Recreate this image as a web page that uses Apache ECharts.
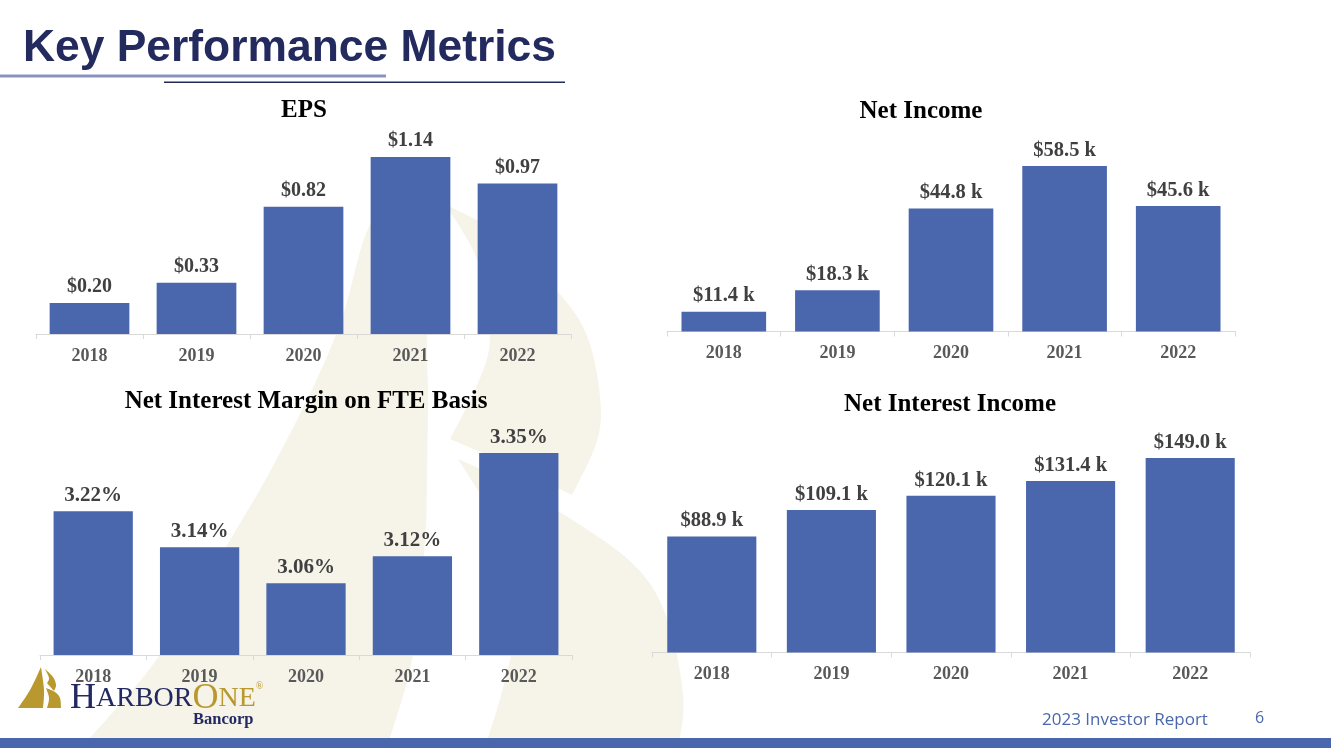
<!DOCTYPE html>
<html><head><meta charset="utf-8">
<style>html,body{margin:0;padding:0;background:#fff}#c{width:1331px;height:748px}</style>
<script src="https://cdn.jsdelivr.net/npm/echarts@6/dist/echarts.min.js"></script>
</head><body><div id="c"></div>
<script>
const years = ['2018','2019','2020','2021','2022'];
const eps = [0.20,0.33,0.82,1.14,0.97];
const netIncome = [11.4,18.3,44.8,58.5,45.6];
const margin = [3.22,3.14,3.06,3.12,3.35];
const interestIncome = [88.9,109.1,120.1,131.4,149.0];
const chartTitles = ['EPS','Net Income','Net Interest Margin on FTE Basis','Net Interest Income'];

const BLUE='#4a66ac', CREAM='#f6f3e8', GOLD='#b9992f', NAVY='#232a63';
const SERIF='"Liberation Serif", serif';

// Catmull-Rom sampling for decorative outlines
function curve(p){const o=[];for(let i=0;i<p.length-1;i++){const a=p[Math.max(i-1,0)],b=p[i],c=p[i+1],d=p[Math.min(i+2,p.length-1)];
 for(let t=0;t<1;t+=0.125){const t2=t*t,t3=t2*t;o.push([0,1].map(k=>0.5*(2*b[k]+(c[k]-a[k])*t+(2*a[k]-5*b[k]+4*c[k]-d[k])*t2+(3*b[k]-a[k]-3*c[k]+d[k])*t3)));}}
 o.push(p[p.length-1]);return o;}
const shape=(...cs)=>cs.flatMap(curve);
const poly=(points,fill,z)=>({type:'polygon',z,silent:true,shape:{points},style:{fill}});

const wmLeft=shape([[90,738],[160,655],[233,535],[273,466],[317,379],[343,315],[371,223],[410,208],[445,204]],
                   [[445,204],[432,270],[427,340],[428,397],[427,470],[425,542],[413,655],[390,738]]);
const wmUpper=shape([[445,204],[500,235],[558,292],[587,336],[600,397],[597,441],[572,495]],
                    [[572,495],[510,465],[450,439]],[[450,439],[478,383],[490,336],[478,262],[445,204]]);
const wmLower=shape([[458,459],[490,474],[558,511],[633,564],[667,618],[683,694],[680,738]],
                    [[488,738],[505,680],[520,600],[500,530],[458,459]]);
const logoL=shape([[18,708],[30,690],[41,667]],[[41,667],[44,690],[43,708]]);
const logoR1=shape([[45,669],[53,677],[56,685],[54,691]],[[54,691],[47,683]],[[47,683],[49,678],[45,669]]);
const logoR2=shape([[46,688],[55,692],[60,698],[61,708]],[[47,708],[49,698],[46,688]]);

const layouts=[
 {l:36,r:571,t:157,b:334,min:0,max:1.14,data:eps,fmt:v=>'$'+v.toFixed(2),size:20,dist:6,tx:304,ty:98},
 {l:667,r:1235,t:166,b:331.5,min:5,max:58.5,data:netIncome,fmt:v=>'$'+v.toFixed(1)+' k',size:20.5,dist:5,tx:921,ty:99},
 {l:40,r:572,t:453,b:655,min:2.9,max:3.35,data:margin,fmt:v=>v.toFixed(2)+'%',size:21,dist:5,tx:306,ty:389},
 {l:652,r:1250,t:458,b:652.5,min:0,max:149,data:interestIncome,fmt:v=>'$'+v.toFixed(1)+' k',size:20.5,dist:5,tx:950,ty:392}
];

const chart=echarts.init(document.getElementById('c'),null,{renderer:'canvas'});
chart.setOption({
 animation:false,backgroundColor:'#fff',
 title:layouts.map((g,i)=>({text:chartTitles[i],left:g.tx,top:g.ty,textAlign:'center',padding:0,
   textStyle:{fontFamily:SERIF,fontWeight:'bold',fontSize:25,color:'#000'}})),
 grid:layouts.map(g=>({left:g.l,top:g.t,width:g.r-g.l,height:g.b-g.t})),
 xAxis:layouts.map((g,i)=>({type:'category',gridIndex:i,data:years,
   axisLine:{lineStyle:{color:'#d9d9d9',width:1}},axisTick:{show:true,length:5,lineStyle:{color:'#d9d9d9'}},
   axisLabel:{margin:13,fontFamily:SERIF,fontWeight:'bold',fontSize:18,color:'#595959'}})),
 yAxis:layouts.map((g,i)=>({type:'value',gridIndex:i,min:g.min,max:g.max,show:false,splitLine:{show:false}})),
 series:layouts.map((g,i)=>({type:'bar',xAxisIndex:i,yAxisIndex:i,data:g.data,barCategoryGap:'25.5%',
   itemStyle:{color:BLUE},
   label:{show:true,position:'top',distance:g.dist,formatter:p=>g.fmt(p.value),fontFamily:SERIF,fontWeight:'bold',fontSize:g.size,color:'#404040'}})),
 graphic:[
  poly(wmLeft,CREAM,-5),poly(wmUpper,CREAM,-5),poly(wmLower,CREAM,-5),
  {type:'text',left:23,top:27,style:{text:'Key Performance Metrics',fontFamily:'"Liberation Sans", Arial, sans-serif',fontWeight:'bold',fontSize:44.4,fill:'#232a5e'}},
  {type:'rect',silent:true,shape:{x:0,y:74.5,width:386,height:3},style:{fill:'#8a93c0'}},
  {type:'rect',silent:true,shape:{x:164,y:81.5,width:401,height:1.5},style:{fill:'#1f2a55'}},
  {type:'rect',silent:true,shape:{x:0,y:738,width:1331,height:10},style:{fill:BLUE}},
  {type:'text',left:1042,top:712,style:{text:'2023 Investor Report',fontFamily:'"Open Sans", sans-serif',fontSize:17,fill:BLUE}},
  {type:'text',left:1255,top:710,style:{text:'6',fontFamily:'"Open Sans", sans-serif',fontSize:16,fill:BLUE}},
  poly(logoL,GOLD,5),poly(logoR1,GOLD,5),poly(logoR2,GOLD,5),
  {type:'text',z:5,left:70,top:681,style:{text:'{a|H}{b|ARBOR}{c|O}{d|NE}{e|®}',fontFamily:SERIF,
    rich:{a:{fontFamily:SERIF,fontSize:36,fill:NAVY,color:NAVY},b:{fontFamily:SERIF,fontSize:28,fill:NAVY,color:NAVY},
          c:{fontFamily:SERIF,fontSize:36,fill:GOLD,color:GOLD},d:{fontFamily:SERIF,fontSize:28,fill:GOLD,color:GOLD},
          e:{fontFamily:SERIF,fontSize:10,fill:GOLD,color:GOLD,verticalAlign:'top'}}}},
  {type:'text',z:5,left:193,top:711,style:{text:'Bancorp',fontFamily:SERIF,fontWeight:'bold',fontSize:16.5,fill:NAVY}}
 ]
});
</script></body></html>
